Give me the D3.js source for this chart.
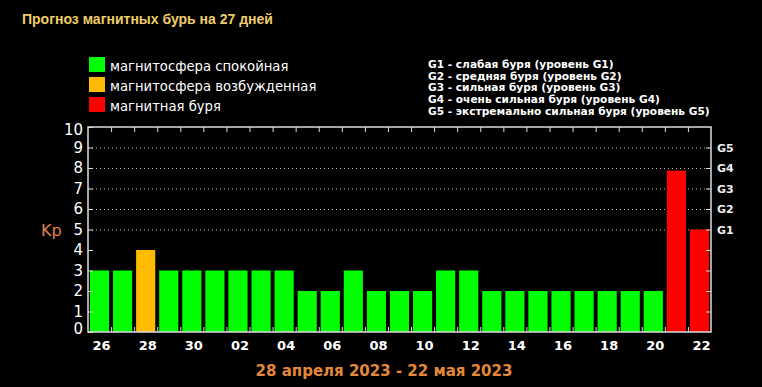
<!DOCTYPE html>
<html>
<head>
<meta charset="utf-8">
<script src="https://cdn.jsdelivr.net/npm/d3@7"></script>
<style>
  html, body { margin: 0; padding: 0; background: #000; }
  svg { display: block; }
</style>
</head>
<body>
<div id="chart"></div>
<script>
// ---- data ----
const days = ["26","27","28","29","30","01","02","03","04","05","06","07","08","09",
              "10","11","12","13","14","15","16","17","18","19","20","21","22"];
const kp = [3,3,4,3,3,3,3,3,3,2,2,3,2,2,2,3,3,2,2,2,2,2,2,2,2,7.87,5];
const gLevels = [5,6,7,8,9];
const gLabels = ["G1","G2","G3","G4","G5"];
const legendItems = ["магнитосфера спокойная","магнитосфера возбужденная","магнитная буря"];
const legendColors = ["#00ff00","#ffbb00","#ff0000"];
const gLegend = [
  "G1 - слабая буря (уровень G1)",
  "G2 - средняя буря (уровень G2)",
  "G3 - сильная буря (уровень G3)",
  "G4 - очень сильная буря (уровень G4)",
  "G5 - экстремально сильная буря (уровень G5)"
];
const title = "Прогноз магнитных бурь на 27 дней";
const period = "28 апреля 2023 - 22 мая 2023";

// ---- layout ----
const W = 762, H = 387;
const plot = { left: 88, right: 711, top: 127, bottom: 332 };

const svg = d3.select("#chart").append("svg")
  .attr("width", W).attr("height", H)
  .style("background", "#000");

const x = d3.scaleBand().domain(days)
  .range([plot.left, plot.right])
  .paddingInner(0.17).paddingOuter(0.085);
const xi = d3.scaleLinear().domain([0, days.length]).range([plot.left, plot.right]);
const y = d3.scaleLinear().domain([0, 10]).range([plot.bottom, plot.top]);

const colorOf = v => v >= 5 ? legendColors[2] : v >= 4 ? legendColors[1] : legendColors[0];

// title
svg.append("text")
  .attr("x", 22).attr("y", 24)
  .attr("fill", "#efcd6a")
  .style("font", "bold 14px 'Liberation Sans', Arial, sans-serif")
  .text(title);

// legend (colors)
const leg = svg.append("g");
legendItems.forEach((t, i) => {
  leg.append("rect")
    .attr("x", 89).attr("y", 57 + i * 20)
    .attr("width", 16).attr("height", 15)
    .attr("fill", legendColors[i]);
  leg.append("text")
    .attr("x", 110).attr("y", 70.5 + i * 20)
    .attr("fill", "#fff")
    .style("font", "13.2px 'DejaVu Sans', sans-serif")
    .text(t);
});

// legend (G levels)
svg.append("g").selectAll("text")
  .data(gLegend).enter().append("text")
    .attr("x", 428)
    .attr("y", (d, i) => 67.8 + i * 11.7)
    .attr("fill", "#fff")
    .style("font", "bold 10.6px 'DejaVu Sans', sans-serif")
    .text(d => d);

// grid lines (dotted)
svg.append("g")
  .attr("transform", `translate(${plot.left},0)`)
  .call(d3.axisLeft(y).tickValues(gLevels).tickSize(-(plot.right - plot.left)).tickFormat(""))
  .call(g => g.select(".domain").remove())
  .call(g => g.selectAll("line").attr("stroke", "#bbb").attr("stroke-dasharray", "1,3"));

// bars
svg.append("g").selectAll("rect")
  .data(kp).enter().append("rect")
    .attr("x", (d, i) => x(days[i]))
    .attr("y", d => y(d))
    .attr("width", x.bandwidth())
    .attr("height", d => y(0) - y(d))
    .attr("fill", d => colorOf(d));

// left axis
svg.append("g")
  .attr("transform", `translate(${plot.left},0)`)
  .call(d3.axisLeft(y).ticks(10).tickSize(-5).tickPadding(5))
  .call(g => g.select(".domain").remove())
  .call(g => g.selectAll("line").attr("stroke", "#ddd"))
  .call(g => g.selectAll("text")
    .attr("fill", "#fff")
    .style("font", "15px 'DejaVu Sans', sans-serif")
    .attr("dy", d => d === 0 ? "0.12em" : d === 10 ? "0.5em" : "0.32em"));

// right axis (G levels)
svg.append("g")
  .attr("transform", `translate(${plot.right},0)`)
  .call(d3.axisRight(y).tickValues(d3.range(1, 10)).tickSize(-5).tickPadding(6)
    .tickFormat(d => d >= 5 ? gLabels[d - 5] : ""))
  .call(g => g.select(".domain").remove())
  .call(g => g.selectAll("line").attr("stroke", "#ddd"))
  .call(g => g.selectAll("text")
    .attr("fill", "#eee")
    .style("font", "bold 11px 'DejaVu Sans', sans-serif"));

// bottom / top tick marks at day boundaries
svg.append("g")
  .attr("transform", `translate(0,${plot.bottom})`)
  .call(d3.axisBottom(xi).tickValues(d3.range(1, days.length)).tickSize(-5).tickFormat(""))
  .call(g => g.select(".domain").remove())
  .call(g => g.selectAll("line").attr("stroke", "#ddd"));
svg.append("g")
  .attr("transform", `translate(0,${plot.top})`)
  .call(d3.axisTop(xi).tickValues(d3.range(1, days.length)).tickSize(-5).tickFormat(""))
  .call(g => g.select(".domain").remove())
  .call(g => g.selectAll("line").attr("stroke", "#ddd"));

// day labels
svg.append("g")
  .attr("transform", `translate(0,${plot.bottom})`)
  .call(d3.axisBottom(x).tickValues(days.filter((d, i) => i % 2 === 0)).tickSize(0).tickPadding(9))
  .call(g => g.select(".domain").remove())
  .call(g => g.selectAll("text")
    .attr("fill", "#fff")
    .attr("dx", "2")
    .style("font", "bold 13px 'DejaVu Sans', sans-serif"));

// frame
svg.append("rect")
  .attr("x", plot.left).attr("y", plot.top)
  .attr("width", plot.right - plot.left).attr("height", plot.bottom - plot.top)
  .attr("fill", "none").attr("stroke", "#ddd").attr("stroke-width", 1.5);

// Kp label
svg.append("text")
  .attr("x", 41).attr("y", 236)
  .attr("fill", "#e0814a")
  .style("font", "16px 'DejaVu Sans', sans-serif")
  .text("Kp");

// period
svg.append("text")
  .attr("x", 384).attr("y", 376)
  .attr("text-anchor", "middle")
  .attr("fill", "#e3883c")
  .style("font", "bold 15px 'DejaVu Sans', sans-serif")
  .text(period);
</script>
</body>
</html>
